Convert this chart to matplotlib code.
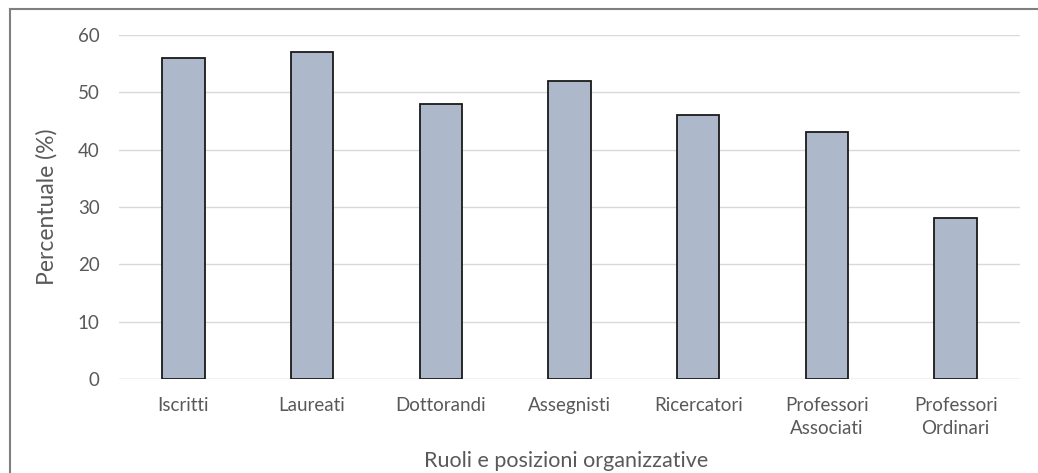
import matplotlib
matplotlib.use("Agg")
import matplotlib.pyplot as plt
from matplotlib.lines import Line2D
import numpy as np

categories = ["Iscritti", "Laureati", "Dottorandi", "Assegnisti", "Ricercatori",
              "Professori\nAssociati", "Professori\nOrdinari"]
values = [56, 57, 48, 52, 46, 43, 28]
yticks = [0, 10, 20, 30, 40, 50, 60]

plt.rcParams['font.family'] = ['Lato', 'DejaVu Sans']

W, H = 1038, 473
fig = plt.figure(figsize=(W / 100, H / 100), dpi=100)
fig.patch.set_facecolor("white")

left, right, top, bottom = 119, 1020, 35, 379
ax = fig.add_axes([left / W, 1 - bottom / H, (right - left) / W, (bottom - top) / H])

x = np.arange(len(categories))
ax.bar(x, values, width=0.33, color="#adb9ca", edgecolor="#1a1a1a", linewidth=1.3, zorder=3)
ax.set_xlim(-0.5, len(categories) - 0.5)
ax.set_ylim(0, 60)
ax.set_yticks(yticks)
ax.set_xticks(x)
ax.set_xticklabels(categories, fontsize=13.5, color="#595959", linespacing=1.4)
ax.tick_params(axis="y", labelsize=13.5, labelcolor="#595959", length=0, pad=14)
ax.tick_params(axis="x", length=0, pad=13)
ax.yaxis.grid(True, color="#d9d9d9", linewidth=1.0, zorder=0)
for s in ax.spines.values():
    s.set_visible(False)
ax.axhline(0, color="#d9d9d9", linewidth=1.0, zorder=1)

ax.set_ylabel("Percentuale (%)", fontsize=16.5, color="#595959")
ax.yaxis.set_label_coords((58 - left) / (right - left), 0.5)
fig.text(566 / W, 1 - 461 / H, "Ruoli e posizioni organizzative", fontsize=15.5,
         color="#595959", ha="center", va="center")

# outer frame (top and left edges visible)
fig.add_artist(Line2D([9.5 / W, 1.0], [1 - 9 / H, 1 - 9 / H], transform=fig.transFigure,
                      color="#7f7f7f", linewidth=1.5))
fig.add_artist(Line2D([9.5 / W, 9.5 / W], [0, 1 - 9 / H], transform=fig.transFigure,
                      color="#7f7f7f", linewidth=1.5))

fig.savefig("out.png", dpi=100)
